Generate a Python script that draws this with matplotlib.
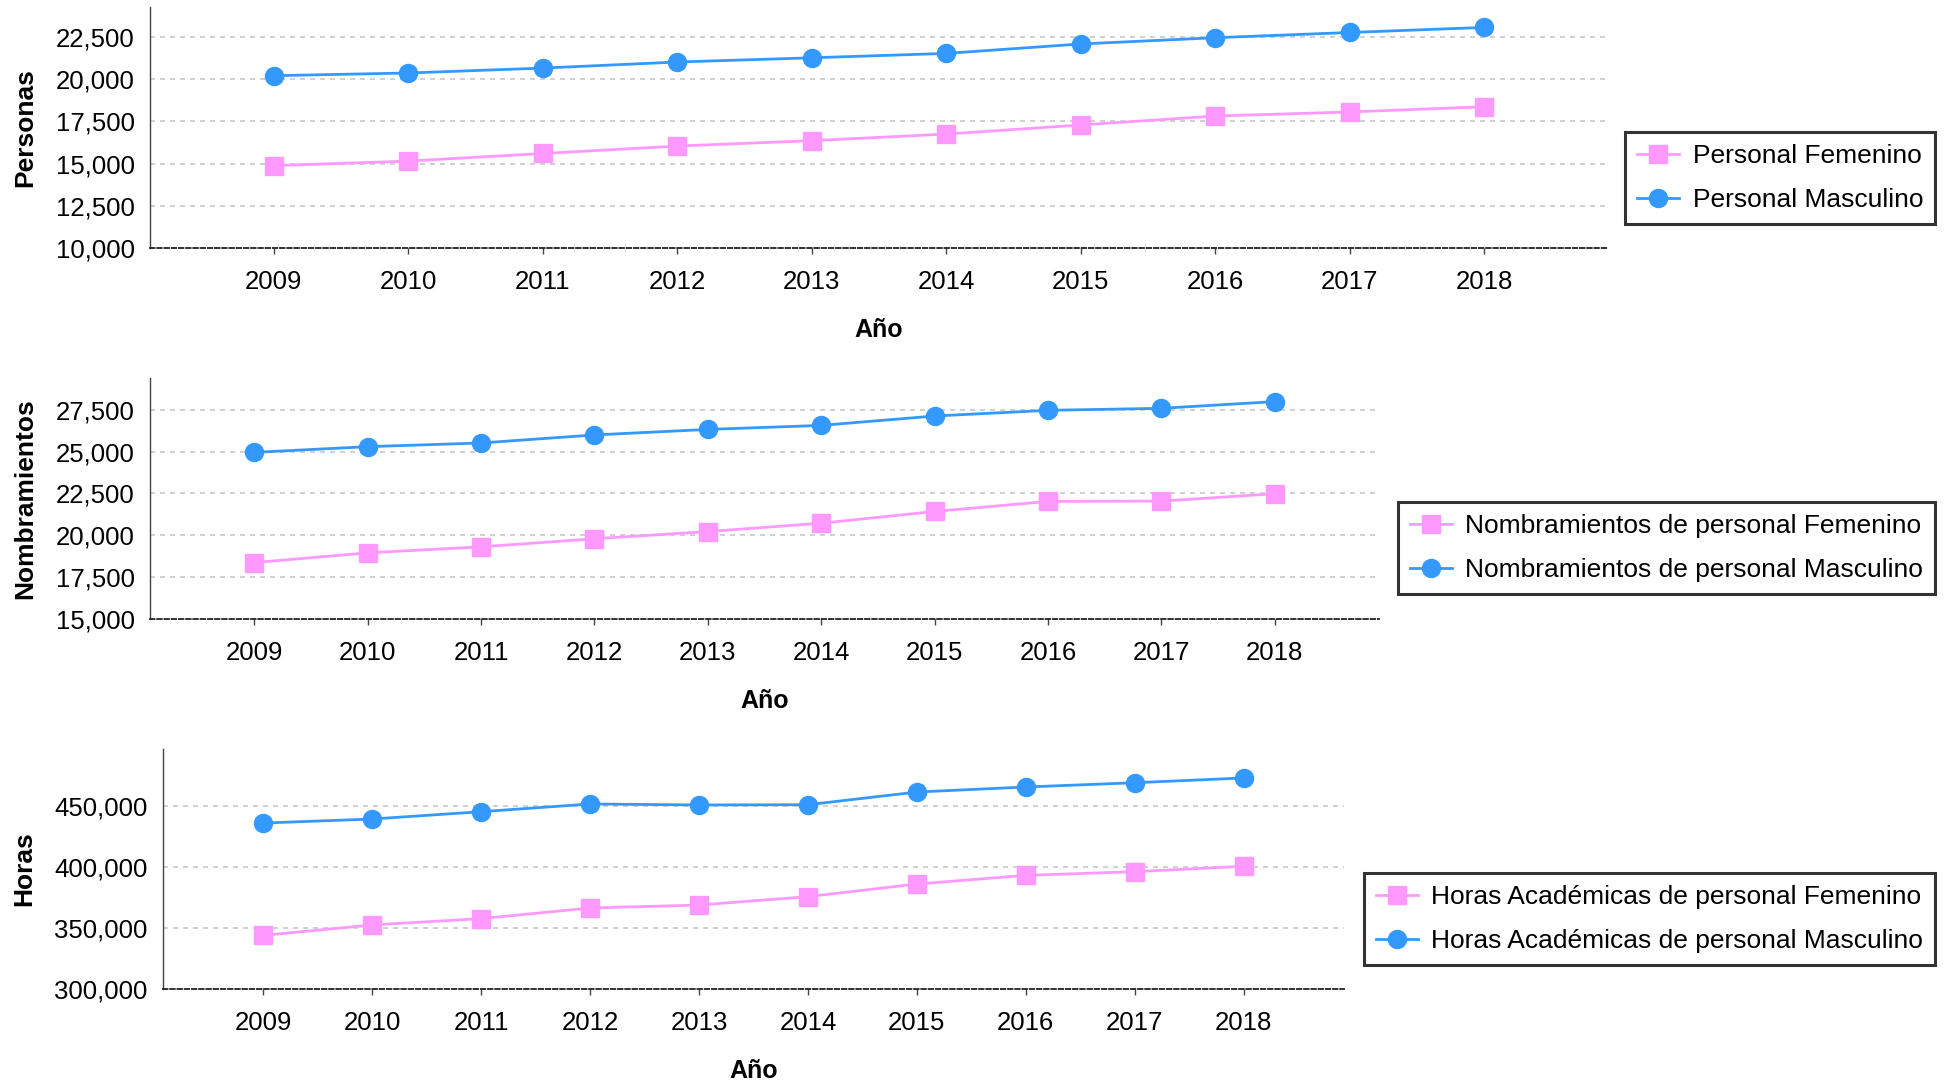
import matplotlib
matplotlib.use("Agg")
import matplotlib.pyplot as plt
from matplotlib.ticker import FuncFormatter

plt.rcParams["font.family"] = ["Liberation Sans", "DejaVu Sans"]

years = [2009, 2010, 2011, 2012, 2013, 2014, 2015, 2016, 2017, 2018]

personal_fem = [14880, 15150, 15600, 16040, 16360, 16750, 17290, 17820, 18060, 18370]
personal_masc = [20210, 20370, 20660, 21020, 21270, 21530, 22090, 22460, 22770, 23070]

nomb_fem = [18370, 18950, 19310, 19790, 20220, 20720, 21420, 22020, 22040, 22480]
nomb_masc = [24950, 25290, 25510, 25990, 26320, 26560, 27120, 27460, 27580, 27980]

horas_fem = [343900, 352400, 357600, 366300, 368700, 375600, 385900, 393000, 396000, 400400]
horas_masc = [435800, 439100, 445100, 451400, 450600, 450800, 461200, 465300, 468800, 472700]

PINK = "#ff99ff"
BLUE = "#3399ff"
W, H = 1951, 1083

panels = [
    # (left, top, right, bottom) in px, ylabel, ylim, ticks, fem, masc, labels, legend center y
    ((150, 7, 1608, 248), "Personas", (10000, 24280),
     [10000, 12500, 15000, 17500, 20000, 22500],
     personal_fem, personal_masc,
     ("Personal Femenino", "Personal Masculino"), 178),
    ((150, 378, 1379, 619), "Nombramientos", (15000, 29390),
     [15000, 17500, 20000, 22500, 25000, 27500],
     nomb_fem, nomb_masc,
     ("Nombramientos de personal Femenino", "Nombramientos de personal Masculino"), 548),
    ((163, 749, 1344, 989), "Horas", (300000, 496400),
     [300000, 350000, 400000, 450000],
     horas_fem, horas_masc,
     ("Horas Académicas de personal Femenino", "Horas Académicas de personal Masculino"), 919),
]

fig = plt.figure(figsize=(W / 100, H / 100), dpi=100)

for (l, t, r, b), ylab, ylim, yticks, fem, masc, labels, leg_y in panels:
    ax = fig.add_axes([l / W, 1 - b / H, (r - l) / W, (b - t) / H])
    h_fem, = ax.plot(years, fem, color=PINK, lw=2, marker="s", ms=13, label=labels[0], zorder=3)
    h_masc, = ax.plot(years, masc, color=BLUE, lw=2, marker="o", ms=13, label=labels[1], zorder=3)

    ax.set_xlim(2008.08, 2018.92)
    ax.set_ylim(*ylim)
    ax.set_xticks(years)
    ax.set_xticklabels([str(y) for y in years])
    ax.set_yticks(yticks)
    ax.yaxis.set_major_formatter(FuncFormatter(lambda v, p: f"{int(v):,}"))

    for v in yticks[1:]:
        ax.axhline(v, color="#c8c8c8", lw=1.2, ls=(0, (3, 3)), zorder=1)

    for s in ("top", "right"):
        ax.spines[s].set_visible(False)
    ax.spines["left"].set_color("#444444")
    ax.spines["left"].set_linewidth(1)
    ax.spines["bottom"].set_color("#222222")
    ax.spines["bottom"].set_linewidth(1.3)
    ax.spines["bottom"].set_linestyle((0, (2.5, 1.5)))

    ax.tick_params(axis="x", length=4, width=1, color="#444444", pad=12, labelsize=18.5)
    ax.tick_params(axis="y", length=0, pad=11, labelsize=18.5)

    ax.set_xlabel("Año", fontsize=18, fontweight="bold", labelpad=17)
    ax.set_ylabel(ylab, fontsize=19, fontweight="bold", labelpad=13)

    leg = fig.legend(handles=[h_fem, h_masc], loc="center right",
                     bbox_to_anchor=(1935 / W, 1 - leg_y / H), fontsize=19,
                     frameon=True, fancybox=False, handlelength=1.6,
                     handletextpad=0.5, borderpad=0.45, labelspacing=0.75,
                     borderaxespad=0)
    leg.get_frame().set_edgecolor("black")
    leg.get_frame().set_linewidth(2.2)

fig.savefig("out.png", dpi=100)
